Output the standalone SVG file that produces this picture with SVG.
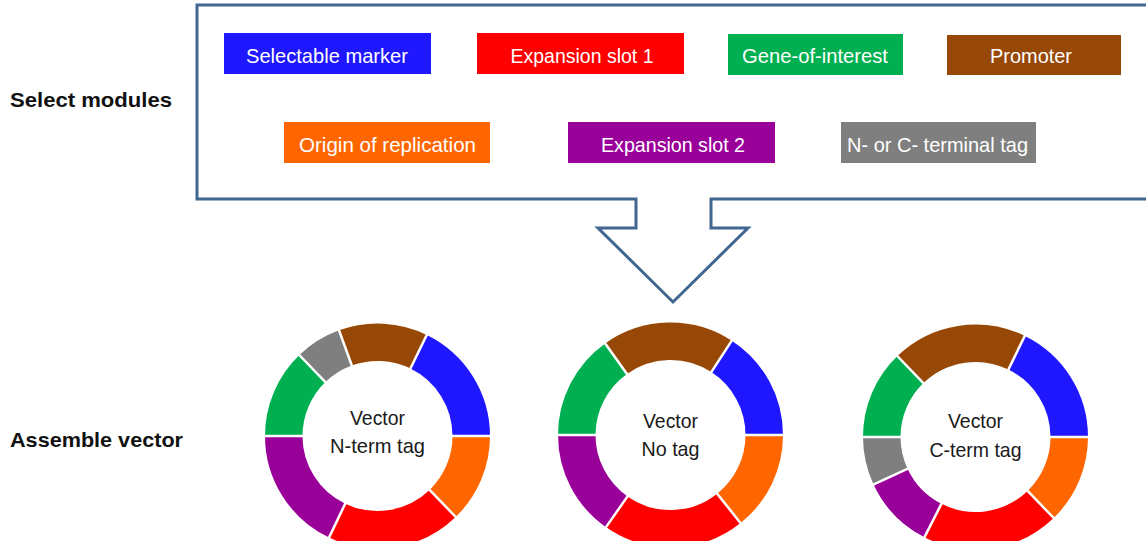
<svg xmlns="http://www.w3.org/2000/svg" width="1146" height="541" viewBox="0 0 1146 541">
<style>
.mod text{font-family:"Liberation Sans",Arial,sans-serif;font-size:21px;fill:#fff;text-anchor:middle}
.lbl{font-family:"Liberation Sans",Arial,sans-serif;font-size:21px;font-weight:bold;fill:#111}
.ctr{font-family:"Liberation Sans",Arial,sans-serif;font-size:21px;fill:#1a1a1a;text-anchor:middle}
.seg{fill:none;stroke-width:37.5}
.sep{stroke:#fff;stroke-width:2.5}
</style>
<rect width="1146" height="541" fill="#fff"/>
<text class="lbl" x="10" y="107" textLength="162" lengthAdjust="spacingAndGlyphs">Select modules</text>
<text class="lbl" x="10" y="447" textLength="173" lengthAdjust="spacingAndGlyphs">Assemble vector</text>
<g id="connectors">
<path d="M636 199 L197 199 L197 5 L1152 5 L1152 199 L711 199 L711 228 L748 228 L673 302 L598 228 L636 228 Z" fill="none" stroke="#41668F" stroke-width="3" stroke-linejoin="miter"/>
</g>
<g id="m-selectable" class="mod"><rect x="224" y="33" width="207" height="41" fill="#1F17FF"/><text x="327" y="63" textLength="162" lengthAdjust="spacingAndGlyphs">Selectable marker</text></g>
<g id="m-exp1" class="mod"><rect x="477" y="33" width="207" height="41" fill="#FF0000"/><text x="582" y="63" textLength="143" lengthAdjust="spacingAndGlyphs">Expansion slot 1</text></g>
<g id="m-goi" class="mod"><rect x="728" y="34" width="175" height="41" fill="#00B050"/><text x="815" y="63" textLength="146" lengthAdjust="spacingAndGlyphs">Gene-of-interest</text></g>
<g id="m-promoter" class="mod"><rect x="947" y="35" width="174" height="40" fill="#974806"/><text x="1031" y="63" textLength="82" lengthAdjust="spacingAndGlyphs">Promoter</text></g>
<g id="m-ori" class="mod"><rect x="284" y="122" width="206" height="41" fill="#FF6600"/><text x="387.5" y="152" textLength="177" lengthAdjust="spacingAndGlyphs">Origin of replication</text></g>
<g id="m-exp2" class="mod"><rect x="568" y="122" width="207" height="41" fill="#990099"/><text x="673" y="152" textLength="144" lengthAdjust="spacingAndGlyphs">Expansion slot 2</text></g>
<g id="m-tag" class="mod"><rect x="841" y="122" width="195" height="41" fill="#7F7F7F"/><text x="937.5" y="152" textLength="181" lengthAdjust="spacingAndGlyphs">N- or C- terminal tag</text></g>

<g id="vector-nterm" transform="translate(377.5,436)">
<circle class="seg" r="93.75" pathLength="360" stroke="#1F17FF" stroke-dasharray="64 360" transform="rotate(296)"/>
<circle class="seg" r="93.75" pathLength="360" stroke="#FF6600" stroke-dasharray="46 360"/>
<circle class="seg" r="93.75" pathLength="360" stroke="#FF0000" stroke-dasharray="69.5 360" transform="rotate(46)"/>
<circle class="seg" r="93.75" pathLength="360" stroke="#990099" stroke-dasharray="64.5 360" transform="rotate(115.5)"/>
<circle class="seg" r="93.75" pathLength="360" stroke="#00B050" stroke-dasharray="46 360" transform="rotate(180)"/>
<circle class="seg" r="93.75" pathLength="360" stroke="#7F7F7F" stroke-dasharray="24 360" transform="rotate(226)"/>
<circle class="seg" r="93.75" pathLength="360" stroke="#974806" stroke-dasharray="46 360" transform="rotate(250)"/>
<g class="sep">
<line x1="74" x2="114" transform="rotate(0)"/><line x1="74" x2="114" transform="rotate(46)"/><line x1="74" x2="114" transform="rotate(115.5)"/><line x1="74" x2="114" transform="rotate(180)"/><line x1="74" x2="114" transform="rotate(226)"/><line x1="74" x2="114" transform="rotate(250)"/><line x1="74" x2="114" transform="rotate(296)"/>
</g>
<text class="ctr" x="0" y="-11" textLength="55" lengthAdjust="spacingAndGlyphs">Vector</text>
<text class="ctr" x="0" y="17" textLength="95" lengthAdjust="spacingAndGlyphs">N-term tag</text>
</g>

<g id="vector-notag" transform="translate(670.5,435)">
<circle class="seg" r="93.75" pathLength="360" stroke="#FF6600" stroke-dasharray="51.5 360"/>
<circle class="seg" r="93.75" pathLength="360" stroke="#FF0000" stroke-dasharray="73.5 360" transform="rotate(51.5)"/>
<circle class="seg" r="93.75" pathLength="360" stroke="#990099" stroke-dasharray="55 360" transform="rotate(125)"/>
<circle class="seg" r="93.75" pathLength="360" stroke="#00B050" stroke-dasharray="54.5 360" transform="rotate(180)"/>
<circle class="seg" r="93.75" pathLength="360" stroke="#974806" stroke-dasharray="68.5 360" transform="rotate(234.5)"/>
<circle class="seg" r="93.75" pathLength="360" stroke="#1F17FF" stroke-dasharray="57 360" transform="rotate(303)"/>
<g class="sep">
<line x1="74" x2="114" transform="rotate(0)"/><line x1="74" x2="114" transform="rotate(51.5)"/><line x1="74" x2="114" transform="rotate(125)"/><line x1="74" x2="114" transform="rotate(180)"/><line x1="74" x2="114" transform="rotate(234.5)"/><line x1="74" x2="114" transform="rotate(303)"/>
</g>
<text class="ctr" x="0" y="-7" textLength="55" lengthAdjust="spacingAndGlyphs">Vector</text>
<text class="ctr" x="0" y="21" textLength="58" lengthAdjust="spacingAndGlyphs">No tag</text>
</g>

<g id="vector-cterm" transform="translate(975.5,437)">
<circle class="seg" r="93.75" pathLength="360" stroke="#FF6600" stroke-dasharray="46 360"/>
<circle class="seg" r="93.75" pathLength="360" stroke="#FF0000" stroke-dasharray="71 360" transform="rotate(46)"/>
<circle class="seg" r="93.75" pathLength="360" stroke="#990099" stroke-dasharray="38 360" transform="rotate(117)"/>
<circle class="seg" r="93.75" pathLength="360" stroke="#7F7F7F" stroke-dasharray="25 360" transform="rotate(155)"/>
<circle class="seg" r="93.75" pathLength="360" stroke="#00B050" stroke-dasharray="46 360" transform="rotate(180)"/>
<circle class="seg" r="93.75" pathLength="360" stroke="#974806" stroke-dasharray="70 360" transform="rotate(226)"/>
<circle class="seg" r="93.75" pathLength="360" stroke="#1F17FF" stroke-dasharray="64 360" transform="rotate(296)"/>
<g class="sep">
<line x1="74" x2="114" transform="rotate(0)"/><line x1="74" x2="114" transform="rotate(46)"/><line x1="74" x2="114" transform="rotate(117)"/><line x1="74" x2="114" transform="rotate(155)"/><line x1="74" x2="114" transform="rotate(180)"/><line x1="74" x2="114" transform="rotate(226)"/><line x1="74" x2="114" transform="rotate(296)"/>
</g>
<text class="ctr" x="0" y="-9" textLength="55" lengthAdjust="spacingAndGlyphs">Vector</text>
<text class="ctr" x="0" y="20" textLength="92" lengthAdjust="spacingAndGlyphs">C-term tag</text>
</g>
</svg>
